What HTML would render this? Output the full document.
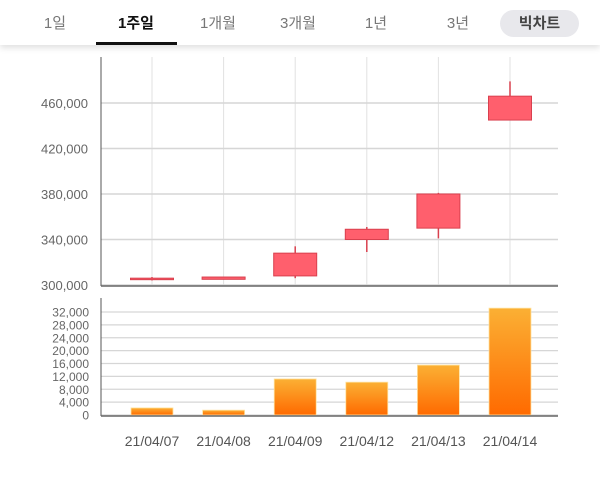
<!DOCTYPE html>
<html><head><meta charset="utf-8"><style>
body{margin:0;width:600px;height:482px;background:#fff;overflow:hidden;font-family:"Liberation Sans","Noto Sans CJK KR",sans-serif}
.hdr{position:absolute;left:0;top:0;width:600px;height:45px;background:#fff;box-shadow:0 3px 6px rgba(0,0,0,0.12)}
.tab{position:absolute;top:12px;font-size:15px;color:#777;transform:translateX(-50%)}
.tab.on{color:#111;font-weight:bold}
.ul{position:absolute;left:96px;top:42px;width:81px;height:3px;background:#111}
.pill{position:absolute;left:500px;top:10px;width:79px;height:27px;border-radius:14px;background:#e8e8ec;color:#444;font-weight:bold;font-size:15px;text-align:center;line-height:27px}
svg{position:absolute;left:0;top:0}
</style></head><body>
<div class="hdr">
<span class="tab" style="left:55px">1일</span>
<span class="tab on" style="left:136px">1주일</span>
<span class="tab" style="left:218px">1개월</span>
<span class="tab" style="left:298px">3개월</span>
<span class="tab" style="left:376px">1년</span>
<span class="tab" style="left:458px">3년</span>
<div class="ul"></div>
<div class="pill">빅차트</div>
</div>
<svg id="c" width="600" height="482">
<defs><linearGradient id="g" x1="0" y1="0" x2="0" y2="1"><stop offset="0" stop-color="#fbb034"/><stop offset="1" stop-color="#ff6a00"/></linearGradient></defs>
</svg>
<script>
const dates=["21/04/07","21/04/08","21/04/09","21/04/12","21/04/13","21/04/14"];
const opens=[305000,305000,308000,340000,350000,445000];
const closes=[306000,307000,328000,349000,380000,466000];
const highs=[307000,307000,334000,351000,381000,479000];
const lows=[304000,305000,306000,329000,341000,445000];
const volumes=[2200,1500,11200,10200,15500,33200];
const priceTicks=[300000,340000,380000,420000,460000];
const volTicks=[0,4000,8000,12000,16000,20000,24000,28000,32000];

const svg=document.getElementById('c');
const NS='http://www.w3.org/2000/svg';
function mk(t,a,p){const e=document.createElementNS(NS,t);for(const k in a)e.setAttribute(k,a[k]);(p||svg).appendChild(e);return e;}
const L=101,R=558;
const xs=i=>152+i*71.6;
const py=v=>285-(v-300000)/160000*182;
const vy=v=>415-v/32000*103;
const fmt=v=>v.toLocaleString('en-US');

dates.forEach((d,i)=>{const l=mk('line',{x1:xs(i),x2:xs(i),y1:57,y2:285,stroke:'#e2e2e2'});

});
priceTicks.forEach(v=>{const l=mk('line',{x1:L,x2:R,y1:py(v),y2:py(v),stroke:'#d6d6d6','stroke-width':1.5});


const t=mk('text',{x:88,y:py(v)+5,'text-anchor':'end','font-size':13,fill:'#666'});t.textContent=fmt(v);

});
mk('line',{x1:L,x2:L,y1:57,y2:286,stroke:'#555'});
mk('line',{x1:L,x2:R,y1:286,y2:286,stroke:'#666','stroke-width':1.5});
dates.forEach((d,i)=>{const x=xs(i);
const w=mk('line',{x1:x,x2:x,y1:py(highs[i]),y2:py(lows[i]),stroke:'#d9404e','stroke-width':1.5});


const top=py(Math.max(opens[i],closes[i])),bot=py(Math.min(opens[i],closes[i]));
const b=mk('rect',{x:x-21.5,y:top,width:43,height:Math.max(bot-top,1.5),fill:'#ff5f6d',stroke:'#d9404e','stroke-width':1});

});
volTicks.forEach(v=>{const l=mk('line',{x1:L,x2:R,y1:vy(v),y2:vy(v),stroke:'#d6d6d6','stroke-width':1.3});


const t=mk('text',{x:89,y:vy(v)+4.5,'text-anchor':'end','font-size':12,fill:'#666'});t.textContent=fmt(v);

});
mk('line',{x1:L,x2:L,y1:298,y2:416,stroke:'#555'});
dates.forEach((d,i)=>{const x=xs(i);const y=vy(volumes[i]);
const b=mk('rect',{x:x-21,y:y,width:42,height:415-y,fill:'url(#g)',stroke:'#ffe3a0','stroke-width':0.8});


const t=mk('text',{x:x,y:446,'text-anchor':'middle','font-size':14,fill:'#555'});t.textContent=d;

});
mk('line',{x1:L,x2:R,y1:416,y2:416,stroke:'#666','stroke-width':1.5});
</script>
</body></html>
